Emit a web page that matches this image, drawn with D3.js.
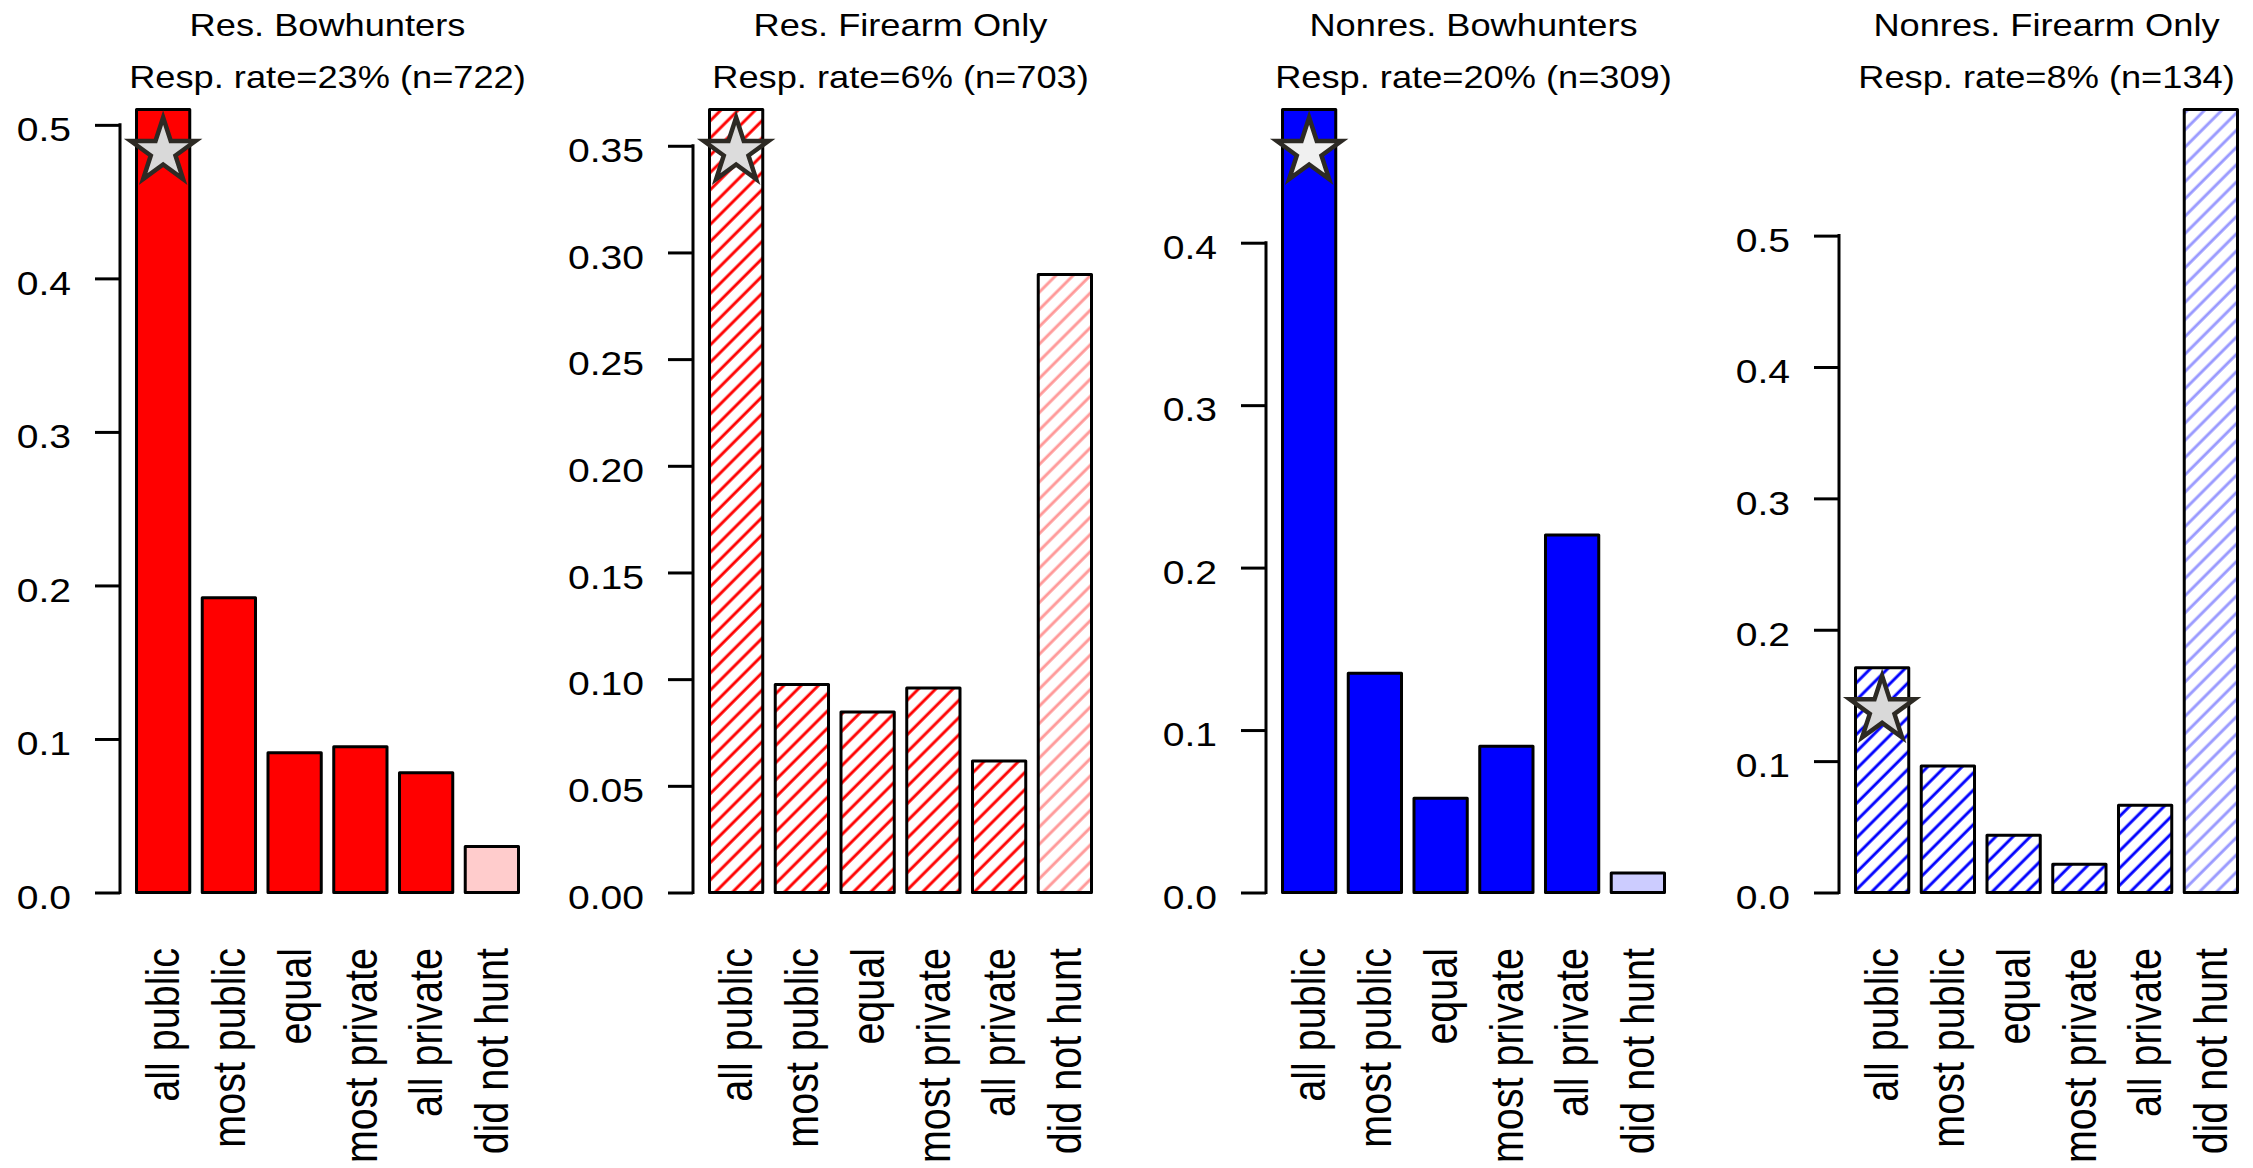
<!DOCTYPE html>
<html>
<head>
<meta charset="utf-8">
<script src="https://cdn.jsdelivr.net/npm/d3@7"></script>
<style>
  body { margin: 0; background: #fff; }
  svg { display: block; }
  text { font-family: "Liberation Sans", Arial, Helvetica, sans-serif; fill: #000; }
</style>
</head>
<body>
<svg id="chart" width="2253" height="1168"></svg>
<script>
// ---------- data ----------
const categories = ["all public", "most public", "equal", "most private", "all private", "did not hunt"];
const panelTitles = ["Res. Bowhunters", "Res. Firearm Only", "Nonres. Bowhunters", "Nonres. Firearm Only"];
const panelSubtitles = ["Resp. rate=23% (n=722)", "Resp. rate=6% (n=703)", "Resp. rate=20% (n=309)", "Resp. rate=8% (n=134)"];
const resBowValues = [0.510, 0.192, 0.091, 0.095, 0.078, 0.030];
const resFirearmValues = [0.367, 0.0975, 0.0846, 0.0959, 0.0616, 0.2897];
const nonresBowValues = [0.482, 0.135, 0.058, 0.090, 0.220, 0.012];
const nonresFirearmValues = [0.171, 0.0963, 0.0436, 0.0215, 0.0664, 0.596];
const panelValues = [resBowValues, resFirearmValues, nonresBowValues, nonresFirearmValues];
const resBowTicks = [0, 0.1, 0.2, 0.3, 0.4, 0.5];
const resFirearmTicks = [0, 0.05, 0.10, 0.15, 0.20, 0.25, 0.30, 0.35];
const nonresBowTicks = [0, 0.1, 0.2, 0.3, 0.4];
const nonresFirearmTicks = [0, 0.1, 0.2, 0.3, 0.4, 0.5];
const panelTicks = [resBowTicks, resFirearmTicks, nonresBowTicks, nonresFirearmTicks];
const tickFormats = [".1f", ".2f", ".1f", ".1f"];
const starIndex = [0, 0, 0, 0];

// ---------- styles ----------
const mainColors = ["#FF0000", "#FF0000", "#0000FF", "#0000FF"];
const lightFills = ["#FFCCCC", "#FF9999", "#CCCCFF", "#9999FF"];
const hatched = [false, true, false, true];
const starFills = ["#D9D9D9", "#DCDCDC", "#F0F0F0", "#D9D9D9"];
const SX = 1.15; // horizontal text stretch

const svg = d3.select("#chart");
const defs = svg.append("defs");

function makeHatch(id, color) {
  const s = 12.2;
  const p = defs.append("pattern")
    .attr("id", id)
    .attr("patternUnits", "userSpaceOnUse")
    .attr("width", s).attr("height", s)
    .attr("patternTransform", "rotate(45)");
  p.append("rect").attr("width", s).attr("height", s).attr("fill", "#fff");
  p.append("line").attr("x1", 2).attr("y1", -2).attr("x2", 2).attr("y2", s + 2)
    .attr("stroke", color).attr("stroke-width", 2.9);
}
makeHatch("hatch-red", "#FF0000");
makeHatch("hatch-red-light", "#FF9999");
makeHatch("hatch-blue", "#0000FF");
makeHatch("hatch-blue-light", "#9999FF");
const hatchMain = ["", "hatch-red", "", "hatch-blue"];
const hatchLight = ["", "hatch-red-light", "", "hatch-blue-light"];

const panelStep = 573;
const barsLeft0 = 136.5;
const barsWidth = 382;
const yBase = 892.5, yTop = 109.5;

function starPath(R) {
  const r = R * 0.382;
  const pts = [];
  for (let k = 0; k < 10; k++) {
    const ang = -Math.PI / 2 + k * Math.PI / 5;
    const rad = k % 2 === 0 ? R : r;
    pts.push([rad * Math.cos(ang), rad * Math.sin(ang)]);
  }
  return d3.line()(pts) + "Z";
}

panelValues.forEach((vals, i) => {
  const bl = barsLeft0 + panelStep * i;
  const axisX = bl - 16.5;
  const g = svg.append("g");

  const x = d3.scaleBand().domain(categories)
    .range([bl, bl + barsWidth]).paddingInner(0.19).paddingOuter(0);
  const y = d3.scaleLinear().domain([0, d3.max(vals)]).range([yBase, yTop]);

  g.selectAll("rect.bar").data(vals).enter().append("rect")
    .attr("class", "bar")
    .attr("x", (d, j) => x(categories[j]))
    .attr("y", d => y(d))
    .attr("width", x.bandwidth())
    .attr("height", d => y(0) - y(d))
    .attr("fill", (d, j) => {
      const last = j === categories.length - 1;
      if (hatched[i]) return `url(#${last ? hatchLight[i] : hatchMain[i]})`;
      return last ? lightFills[i] : mainColors[i];
    })
    .attr("stroke", "#000")
    .attr("stroke-width", 3)
    .attr("stroke-linejoin", "round");

  const si = starIndex[i];
  g.append("path")
    .attr("d", starPath(34))
    .attr("transform", `translate(${x(categories[si]) + x.bandwidth() / 2},${y(vals[si]) + 42})`)
    .attr("fill", starFills[i])
    .attr("stroke", "#2d2a24")
    .attr("stroke-width", 4.5)
    .attr("stroke-linejoin", "miter");

  const ticks = panelTicks[i];
  const axis = d3.axisLeft(y).tickValues(ticks).tickFormat(d3.format(tickFormats[i]))
    .tickSize(25).tickSizeOuter(0).tickPadding(24);
  const ag = g.append("g").attr("transform", `translate(${axisX},0)`).call(axis);
  ag.select(".domain").remove();
  ag.selectAll(".tick line").attr("stroke", "#000").attr("stroke-width", 3);
  ag.selectAll(".tick text")
    .attr("x", 0)
    .attr("transform", `translate(-49,0) scale(${SX},1)`)
    .attr("font-size", 34).attr("dy", "0.46em")
    .attr("font-family", '"Liberation Sans", Arial, sans-serif').attr("fill", "#000");
  ag.append("line")
    .attr("x1", 0).attr("x2", 0)
    .attr("y1", y(0) + 1.5).attr("y2", y(ticks[ticks.length - 1]) - 1.5)
    .attr("stroke", "#000").attr("stroke-width", 3);

  g.selectAll("text.cat").data(categories).enter().append("text")
    .attr("class", "cat")
    .attr("transform", d => `translate(${x(d) + x.bandwidth() / 2},948) scale(${SX},1) rotate(-90)`)
    .attr("text-anchor", "end")
    .attr("dy", "0.36em")
    .attr("font-size", 39.5)
    .text(d => d);

  const cx = bl + barsWidth / 2;
  g.append("text").attr("transform", `translate(${cx},36) scale(${SX},1)`)
    .attr("text-anchor", "middle").attr("font-size", 31.5).text(panelTitles[i]);
  g.append("text").attr("transform", `translate(${cx},88) scale(${SX},1)`)
    .attr("text-anchor", "middle").attr("font-size", 31.5).text(panelSubtitles[i]);
});
</script>
</body>
</html>
